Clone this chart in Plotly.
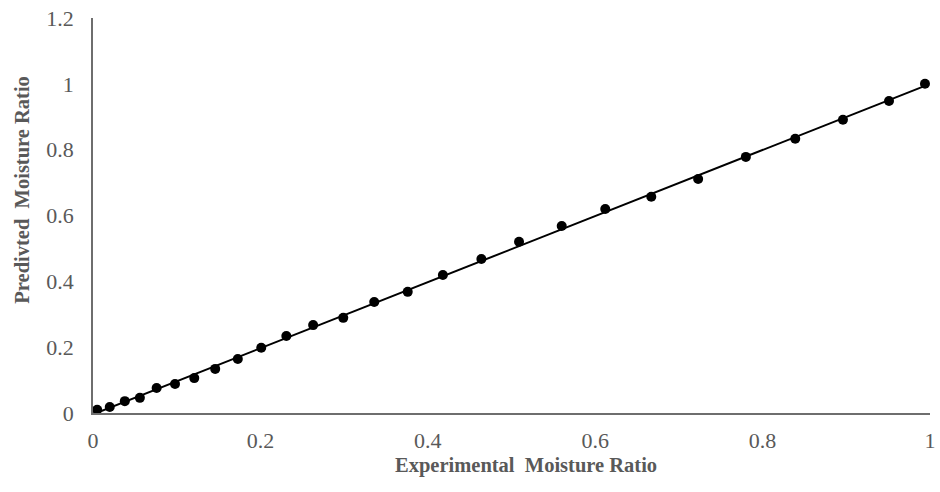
import numpy as np
import plotly.graph_objects as go

# Data
experimental_mr = [0.005, 0.020, 0.038, 0.056, 0.076, 0.098, 0.121, 0.146, 0.173, 0.201,
                   0.231, 0.263, 0.299, 0.336, 0.376, 0.418, 0.464, 0.509, 0.560, 0.612,
                   0.667, 0.723, 0.780, 0.839, 0.896, 0.951, 0.994]
predicted_mr = [0.010, 0.018, 0.036, 0.046, 0.076, 0.088, 0.106, 0.134, 0.164, 0.198,
                0.234, 0.267, 0.289, 0.337, 0.368, 0.419, 0.468, 0.520, 0.568, 0.620,
                0.657, 0.711, 0.778, 0.833, 0.891, 0.948, 1.000]
x_ticks = [0, 0.2, 0.4, 0.6, 0.8, 1]
y_ticks = [0, 0.2, 0.4, 0.6, 0.8, 1, 1.2]
x_title = "Experimental  Moisture Ratio"
y_title = "Predivted  Moisture Ratio"

# Linear trendline through the data
b, a = np.polyfit(experimental_mr, predicted_mr, 1)
x_line = np.array([min(experimental_mr), max(experimental_mr)])
y_line = a + b * x_line

fig = go.Figure()
fig.add_trace(go.Scatter(x=x_line, y=y_line, mode="lines",
                         line=dict(color="black", width=2), showlegend=False, hoverinfo="skip"))
fig.add_trace(go.Scatter(x=experimental_mr, y=predicted_mr, mode="markers",
                         marker=dict(color="black", size=10), showlegend=False, cliponaxis=False))

axis_font = dict(family="Liberation Serif", size=22, color="#595959")
title_font = dict(family="Liberation Serif", size=20.5, color="#595959")

fig.update_layout(
    width=940, height=492,
    margin=dict(l=93, r=10, t=18, b=79),
    paper_bgcolor="white", plot_bgcolor="white",
    xaxis=dict(range=[0, 1], tickvals=x_ticks, ticktext=[str(v) for v in x_ticks],
               showgrid=False, zeroline=False, showline=True, linecolor="#6e6e6e", linewidth=1.5,
               ticks="", tickfont=axis_font, ticklabelstandoff=7, automargin=False),
    yaxis=dict(range=[0, 1.2], tickvals=y_ticks, ticktext=[str(v) for v in y_ticks],
               showgrid=False, zeroline=False, showline=True, linecolor="#6e6e6e", linewidth=1.5,
               ticks="", tickfont=axis_font, ticklabelstandoff=13, automargin=False),
    annotations=[
        dict(text=f"<b>{x_title}</b>", xref="paper", yref="paper", x=0.517, y=-0.134,
             xanchor="center", yanchor="middle", showarrow=False, font=title_font),
        dict(text=f"<b>{y_title}</b>", xref="paper", yref="paper", x=-0.085, y=0.565,
             xanchor="center", yanchor="middle", showarrow=False, font=title_font, textangle=-90),
    ],
)

fig.write_html("out.html", config={"displayModeBar": False},
               post_script="document.body.style.margin='0';")
